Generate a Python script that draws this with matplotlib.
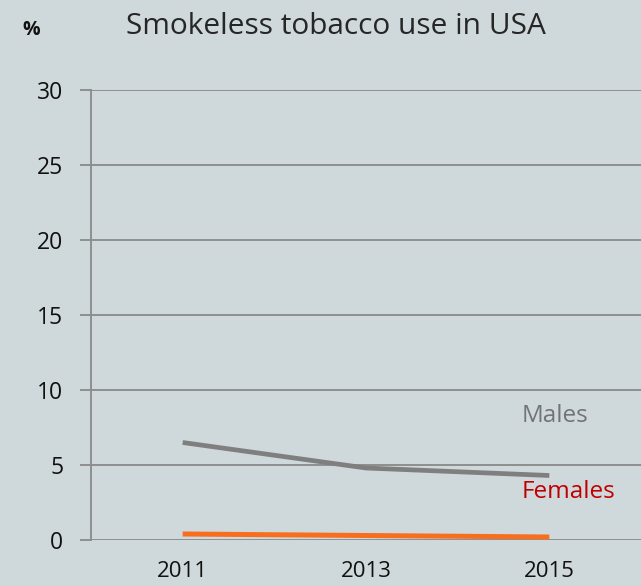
import matplotlib
matplotlib.use("Agg")
import matplotlib.pyplot as plt

years = ["2011", "2013", "2015"]
males = [6.5, 4.8, 4.3]
females = [0.4, 0.3, 0.2]
y_ticks = [0, 5, 10, 15, 20, 25, 30]

bg = "#CFD8DB"
grid_c = "#8E8E8E"

plt.rcParams["font.family"] = ["Open Sans", "DejaVu Sans"]

fig = plt.figure(figsize=(6.41, 5.86), dpi=100, facecolor=bg)
ax = fig.add_axes([91 / 641, 46 / 586, 550 / 641, 450 / 586], facecolor=bg)

x = list(range(len(years)))
ax.plot(x, males, color="#7F7F80", lw=3.4, solid_capstyle="butt", zorder=3)
ax.plot(x, females, color="#F96E1E", lw=3.6, solid_capstyle="butt", zorder=3)

ax.set_xlim(-0.5, 2.5)
ax.set_ylim(0, 30)
ax.set_yticks(y_ticks)
ax.set_xticks(x)
ax.set_xticklabels(years)

ax.yaxis.grid(True, color=grid_c, lw=1.4)
ax.set_axisbelow(True)
for s in ["top", "right", "bottom"]:
    ax.spines[s].set_visible(False)
ax.spines["left"].set_color(grid_c)
ax.spines["left"].set_linewidth(1.4)

ax.tick_params(axis="y", length=8, width=1.4, color=grid_c, pad=12,
               labelsize=16.5, labelcolor="#111111")
ax.tick_params(axis="x", length=0, pad=15, labelsize=16, labelcolor="#111111")

ax.text(1.85, 8.27, "Males", color="#727376", fontsize=17.5, va="center", ha="left")
ax.text(1.85, 3.2, "Females", color="#C00000", fontsize=17.5, va="center", ha="left")

fig.text(126 / 641, 1 - 26 / 586, "Smokeless tobacco use in USA", fontsize=21.5,
         color="#262626", va="center", ha="left")
fig.text(22 / 641, 1 - 30 / 586, "%", fontsize=14, fontweight="bold",
         color="#111111", va="center", ha="left")

fig.savefig("out.png", dpi=100, facecolor=bg)
